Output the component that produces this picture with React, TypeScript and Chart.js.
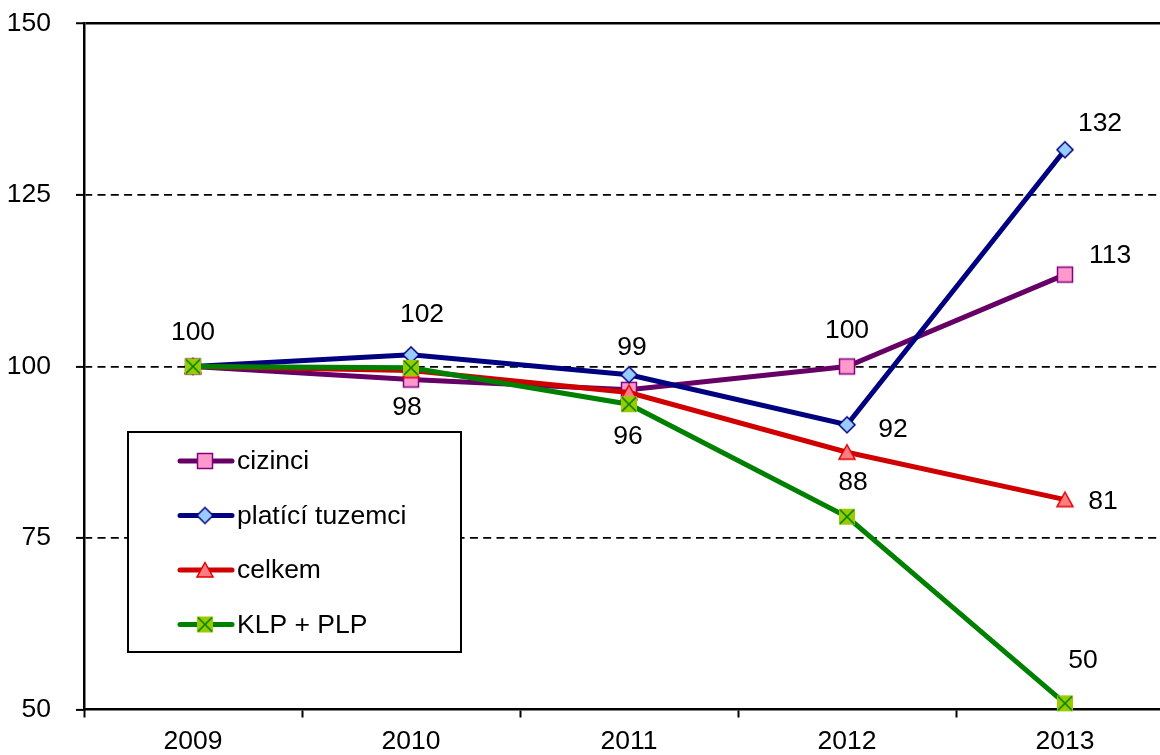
import React, { useEffect, useRef } from "react";
import { Chart, registerables } from "chart.js";

Chart.register(...registerables);

const categories = ["2009", "2010", "2011", "2012", "2013"];
const seriesNames = ["cizinci", "platící tuzemci", "celkem", "KLP + PLP"];
const cizinci = [100, 98.1, 96.6, 100, 113.4];
const platiciTuzemci = [100, 101.7, 98.8, 91.5, 131.6];
const celkem = [100, 99.4, 96.2, 87.5, 80.6];
const klpPlp = [100, 99.8, 94.5, 78.1, 50.9];
const yTicks = [50, 75, 100, 125, 150];

// data labels: series index, point index, text
const dataLabels = [
  { s: 0, i: 0, text: "100" },
  { s: 1, i: 1, text: "102" },
  { s: 0, i: 1, text: "98" },
  { s: 1, i: 2, text: "99" },
  { s: 2, i: 2, text: "96" },
  { s: 0, i: 3, text: "100" },
  { s: 1, i: 3, text: "92" },
  { s: 2, i: 3, text: "88" },
  { s: 1, i: 4, text: "132" },
  { s: 0, i: 4, text: "113" },
  { s: 2, i: 4, text: "81" },
  { s: 3, i: 4, text: "50" },
];
// label offsets (style)
const labelOffsets = [
  [0, -34], [11, -40], [-4, 28], [3, -27], [-1, 44], [0, -36],
  [46, 5], [6, 30], [35, -26], [45, -19], [38, 2], [18, -43],
];

const FONT = "'Liberation Sans', Arial, sans-serif";
const FS = 26.5;
const lineColors = ["#660066", "#000080", "#D00000", "#008000"];

function makeMarker(kind: number): HTMLCanvasElement {
  const c = document.createElement("canvas");
  c.width = 20;
  c.height = 20;
  const ctx = c.getContext("2d")!;
  const m = 10;
  if (kind === 0) {
    ctx.fillStyle = "#FF99CC";
    ctx.strokeStyle = "#800080";
    ctx.lineWidth = 1.5;
    ctx.fillRect(2.5, 2.5, 15, 15);
    ctx.strokeRect(2.5, 2.5, 15, 15);
  } else if (kind === 1) {
    ctx.fillStyle = "#99CCFF";
    ctx.strokeStyle = "#000080";
    ctx.lineWidth = 1.5;
    ctx.beginPath();
    ctx.moveTo(m, 2);
    ctx.lineTo(18, m);
    ctx.lineTo(m, 18);
    ctx.lineTo(2, m);
    ctx.closePath();
    ctx.fill();
    ctx.stroke();
  } else if (kind === 2) {
    ctx.fillStyle = "#FF7C80";
    ctx.strokeStyle = "#E00000";
    ctx.lineWidth = 1.5;
    ctx.beginPath();
    ctx.moveTo(m, 2.5);
    ctx.lineTo(18, 17);
    ctx.lineTo(2, 17);
    ctx.closePath();
    ctx.fill();
    ctx.stroke();
  } else {
    ctx.fillStyle = "#99CC00";
    ctx.fillRect(2, 2, 16, 16);
    ctx.strokeStyle = "#008000";
    ctx.lineWidth = 1.6;
    ctx.beginPath();
    ctx.moveTo(3, 3);
    ctx.lineTo(17, 17);
    ctx.moveTo(17, 3);
    ctx.lineTo(3, 17);
    ctx.stroke();
  }
  return c;
}

export default function App() {
  const ref = useRef<HTMLCanvasElement>(null);
  useEffect(() => {
    if (!ref.current) return;
    const markers = [0, 1, 2, 3].map(makeMarker);
    const series = [cizinci, platiciTuzemci, celkem, klpPlp];

    const labelPlugin = {
      id: "dataLabelsCustom",
      afterDatasetsDraw(chart: any) {
        const ctx = chart.ctx;
        ctx.save();
        ctx.font = `${FS}px ${FONT}`;
        ctx.fillStyle = "#000";
        ctx.textAlign = "center";
        ctx.textBaseline = "middle";
        dataLabels.forEach((l, k) => {
          const pt = chart.getDatasetMeta(l.s).data[l.i];
          const [dx, dy] = labelOffsets[k];
          ctx.fillText(l.text, pt.x + dx, pt.y + dy);
        });
        ctx.restore();
      },
    };

    const legendPlugin = {
      id: "legendBox",
      afterDatasetsDraw(chart: any) {
        const ctx = chart.ctx;
        ctx.save();
        ctx.fillStyle = "#fff";
        ctx.fillRect(128, 432, 333, 220);
        ctx.strokeStyle = "#000";
        ctx.lineWidth = 2;
        ctx.strokeRect(128, 432, 333, 220);
        ctx.font = `${FS}px ${FONT}`;
        ctx.textBaseline = "middle";
        ctx.textAlign = "left";
        seriesNames.forEach((name, k) => {
          const y = 461 + k * 54.5;
          ctx.strokeStyle = lineColors[k];
          ctx.lineWidth = 5;
          ctx.lineCap = "round";
          ctx.beginPath();
          ctx.moveTo(180, y);
          ctx.lineTo(232, y);
          ctx.stroke();
          ctx.drawImage(markers[k], 205 - 10, y - 10);
          ctx.fillStyle = "#000";
          ctx.fillText(name, 237, y + 1);
        });
        ctx.restore();
      },
    };

    const chart = new Chart(ref.current, {
      type: "line",
      data: {
        labels: categories,
        datasets: series.map((d, k) => ({
          label: seriesNames[k],
          data: d,
          borderColor: lineColors[k],
          backgroundColor: lineColors[k],
          borderWidth: 5,
          pointStyle: markers[k] as any,
          pointRadius: 9,
          tension: 0,
          order: 4 - k,
          clip: false as any,
        })),
      },
      options: {
        responsive: false,
        animation: false,
        layout: { padding: { top: 23.5, left: 0, right: 0, bottom: 0 } },
        plugins: { legend: { display: false }, tooltip: { enabled: false } },
        scales: {
          x: {
            offset: true,
            grid: {
              offset: true,
              drawOnChartArea: false,
              drawTicks: true,
              tickLength: 8,
              tickColor: "#000",
              tickWidth: 2,
            },
            border: { display: true, color: "#000", width: 2.5 },
            ticks: {
              color: "#000",
              font: { size: FS, family: FONT },
              padding: 8,
              maxRotation: 0,
            },
            afterFit(scale: any) {
              scale.height = 45.5;
            },
          },
          y: {
            min: 50,
            max: 150,
            afterBuildTicks(scale: any) {
              scale.ticks = yTicks.map((v) => ({ value: v }));
            },
            grid: {
              color: (c: any) => (c.tick && c.tick.value === 50 ? "rgba(0,0,0,0)" : "#000"),
              lineWidth: (c: any) => (c.tick && c.tick.value === 150 ? 2.5 : 1.8),
              drawTicks: true,
              tickLength: 8,
              tickColor: "#000",
              tickWidth: 2,
            },
            border: {
              display: true,
              color: "#000",
              width: 2.5,
              dash: (c: any) => (c.tick && c.tick.value === 150 ? [] : [8, 5.3]),
              dashOffset: -12,
            },
            ticks: {
              color: "#000",
              font: { size: FS, family: FONT },
              padding: 25,
            },
            afterFit(scale: any) {
              scale.width = 84;
              scale.paddingTop = 0;
              scale.paddingBottom = 0;
            },
          },
        },
      },
      plugins: [labelPlugin, legendPlugin],
    });
    return () => chart.destroy();
  }, []);

  return (
    <div
      style={{
        position: "fixed",
        left: 0,
        top: 0,
        width: 1160,
        height: 755,
        overflow: "hidden",
        background: "#fff",
      }}
    >
      <canvas ref={ref} width={1188} height={755} style={{ display: "block", width: 1188, height: 755 }} />
    </div>
  );
}
